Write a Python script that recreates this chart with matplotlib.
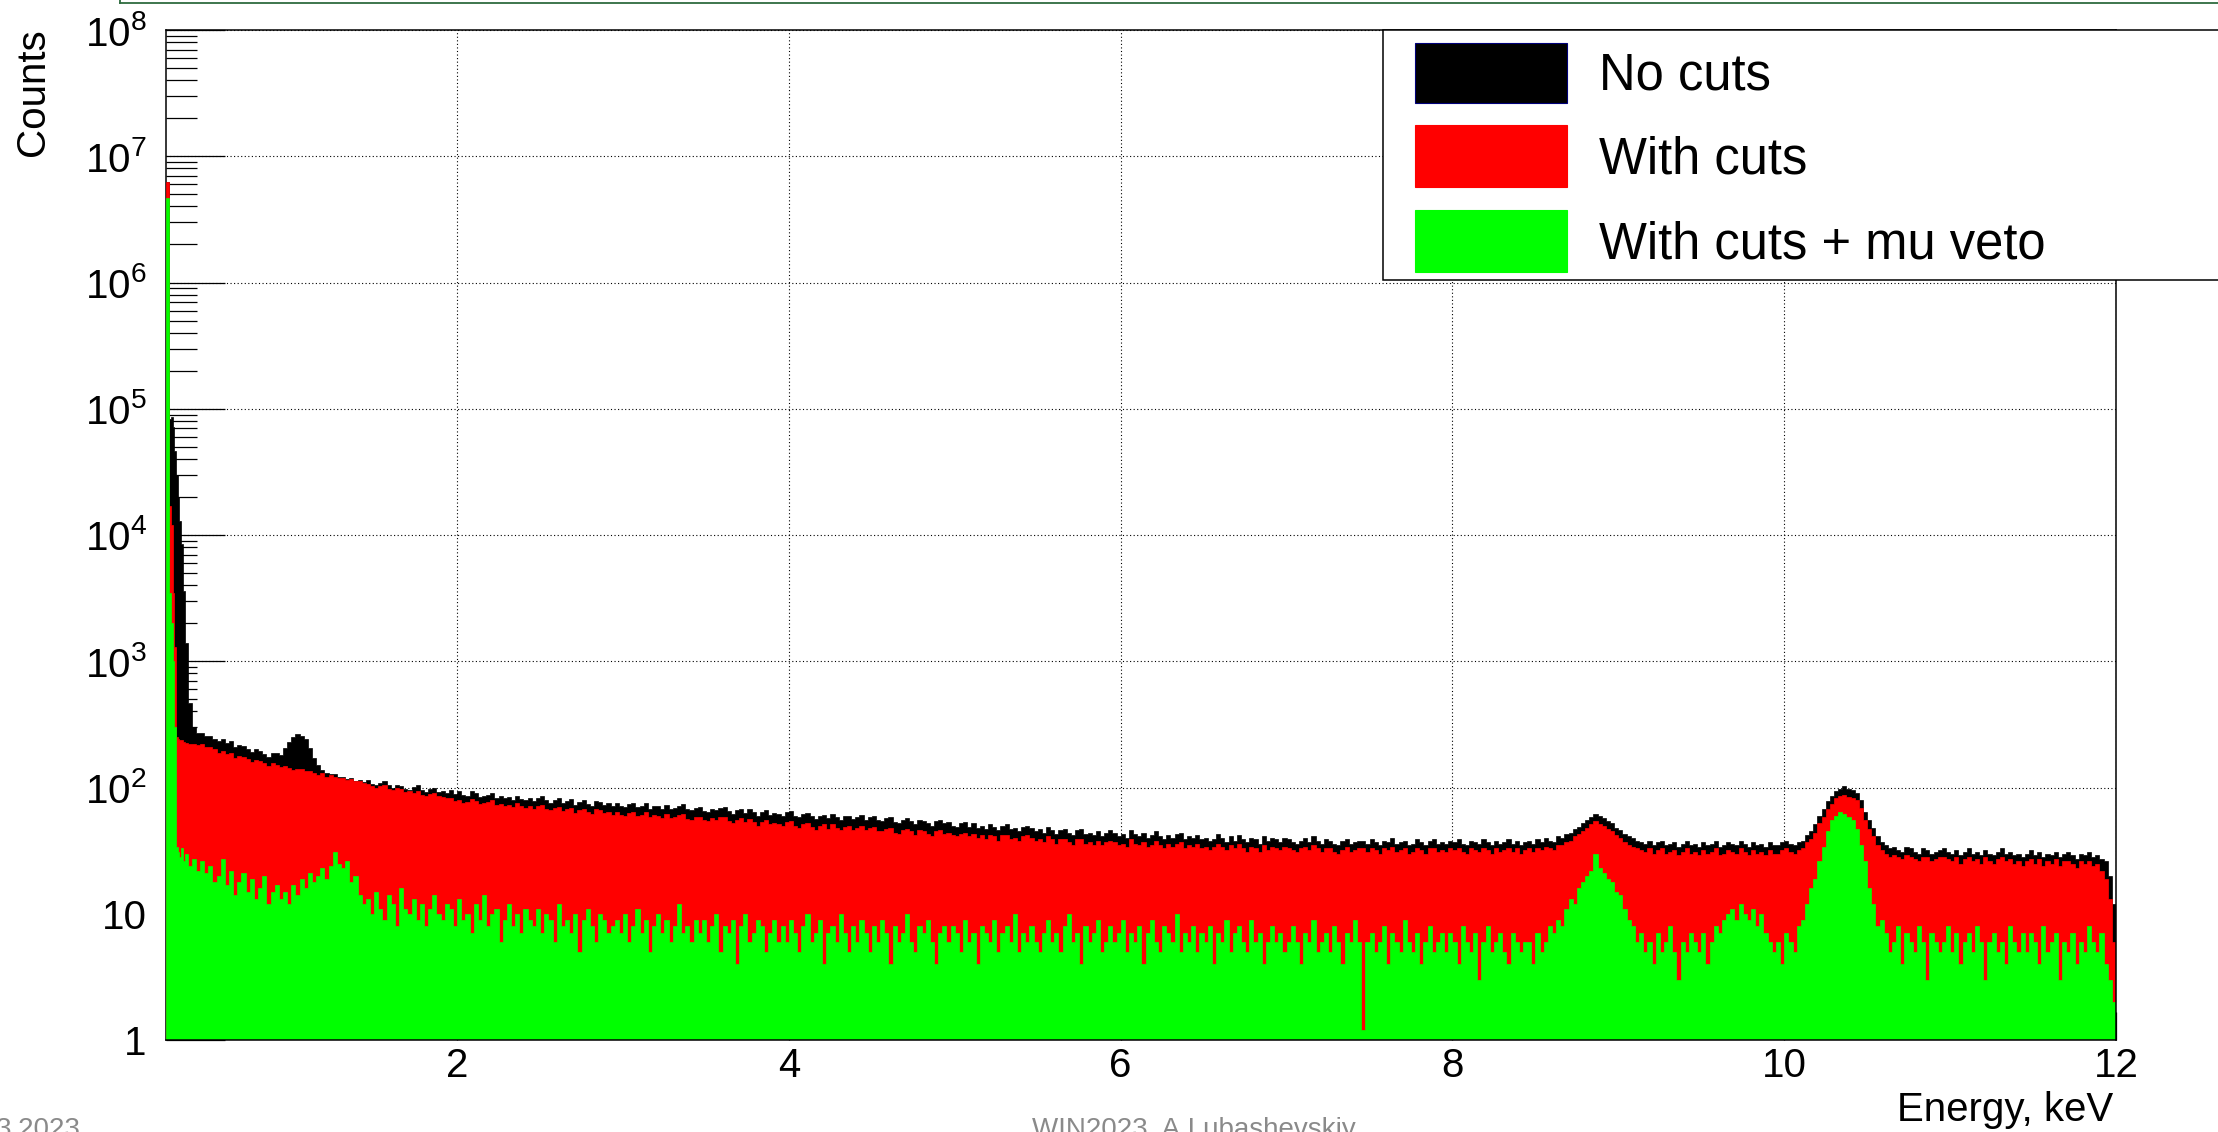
import numpy as np
import matplotlib
matplotlib.use('Agg')
import matplotlib.pyplot as plt
from matplotlib import font_manager
from matplotlib.patches import Rectangle
from matplotlib.lines import Line2D
from matplotlib.ticker import FixedLocator, LogLocator, NullFormatter

W, H, DPI = 2218, 1132, 100


def pick_font(names):
    for name in names:
        try:
            font_manager.findfont(name, fallback_to_default=False)
            return name
        except ValueError:
            continue
    return 'DejaVu Sans'


FONT = pick_font(['Liberation Sans', 'Arial', 'DejaVu Sans'])
FOOT_FONT = pick_font(['Liberation Sans Narrow', 'Liberation Sans'])
plt.rcParams['font.family'] = [FONT, 'DejaVu Sans']
plt.rcParams['mathtext.fontset'] = 'custom'
plt.rcParams['mathtext.rm'] = FONT

# ===== binning (keV) =====
# 10 eV bins across the threshold spike, 25 eV bins above 0.45 keV
fine_edges = [0.245, 0.265, 0.275, 0.285, 0.295, 0.305, 0.315, 0.325,
              0.335, 0.345, 0.36, 0.38, 0.40, 0.425]
coarse_edges = np.round(np.linspace(0.45, 12.0, 463), 4)
edges = np.concatenate([fine_edges, coarse_edges])

# ===== counts per bin (one row = 0.5 keV) =====
no_cuts_fine = [6.2e6, 8.3e4, 8.6e4, 7.2e4, 4.6e4, 3.0e4, 2.0e4, 1.3e4,
                8.5e3, 3.6e3, 1.4e3, 470, 300, 272]
no_cuts = [
    270, 255, 258, 244, 232, 240, 226, 233, 209, 219, 212, 202, 191, 200, 194, 184, 176, 186, 188, 180,
    205, 228, 250, 266, 255, 240, 205, 172, 150, 137, 131, 127, 128, 121, 122, 117, 119, 112, 115, 110,
    114, 107, 104, 109, 112, 104, 99, 105, 103, 97, 96, 101, 104, 95, 92, 98, 99, 92, 94, 90,
    96, 89, 93, 88, 86, 94, 90, 84, 85, 88, 91, 83, 86, 82, 84, 80, 86, 81, 79, 83,
    78, 83, 85, 79, 76, 80, 82, 75, 78, 81, 73, 77, 79, 74, 72, 78, 77, 73, 75, 71,
    76, 71, 70, 74, 75, 70, 72, 76, 68, 72, 71, 68, 73, 67, 69, 72, 74, 67, 66, 69,
    70, 65, 64, 68, 66, 69, 70, 65, 62, 66, 68, 63, 67, 64, 60, 64, 66, 61, 63, 62,
    60, 64, 65, 60, 58, 62, 63, 59, 56, 60, 61, 57, 62, 58, 55, 59, 60, 56, 58, 61,
    55, 58, 60, 55, 54, 57, 58, 53, 52, 55, 57, 54, 51, 55, 54, 52, 50, 54, 55, 52,
    53, 50, 49, 52, 53, 49, 52, 48, 50, 47, 51, 49, 46, 50, 51, 47, 48, 45, 49, 50,
    48, 45, 47, 44, 49, 46, 43, 46, 47, 44, 42, 46, 47, 43, 44, 42, 45, 41, 44, 46,
    44, 41, 43, 40, 46, 43, 41, 44, 40, 42, 45, 41, 39, 42, 40, 43, 44, 39, 41, 40,
    42, 39, 40, 38, 39, 43, 40, 37, 41, 38, 42, 39, 37, 40, 39, 36, 41, 38, 40, 39,
    37, 40, 39, 37, 36, 38, 40, 37, 41, 38, 36, 39, 38, 36, 35, 38, 39, 36, 37, 38,
    38, 36, 39, 37, 35, 38, 37, 40, 36, 37, 38, 35, 36, 39, 37, 35, 38, 39, 36, 37,
    36, 38, 37, 39, 36, 35, 38, 37, 36, 39, 37, 35, 38, 36, 37, 39, 36, 38, 35, 37,
    38, 36, 39, 37, 40, 38, 37, 41, 40, 43, 44, 47, 49, 52, 55, 58, 62, 59, 57, 54,
    52, 48, 46, 43, 41, 40, 38, 37, 36, 38, 35, 37, 38, 35, 36, 37, 34, 36, 38, 35,
    36, 34, 37, 35, 36, 38, 34, 35, 37, 36, 35, 38, 36, 34, 37, 35, 36, 34, 37, 35,
    35, 37, 38, 36, 35, 37, 38, 42, 45, 51, 60, 68, 78, 86, 94, 98, 102, 97, 96, 91,
    80, 64, 55, 48, 41, 37, 35, 33, 34, 32, 31, 34, 33, 31, 30, 33, 32, 30, 31, 32,
    33, 31, 30, 32, 29, 31, 33, 30, 31, 29, 32, 30, 29, 31, 33, 30, 31, 29, 30, 28,
    30, 32, 29, 31, 28, 30, 29, 31, 28, 30, 31, 29, 27, 30, 29, 31, 28, 29, 27, 26,
    20, 12,
]

with_cuts_fine = [6.2e6, 1.7e4, 1.2e4, 3.5e3, 1.3e3, 250, 242, 236,
                  238, 230, 226, 222, 221, 216]
with_cuts = [
    220, 209, 210, 200, 188, 193, 184, 189, 172, 178, 173, 168, 158, 165, 161, 157, 148, 155, 152, 146,
    149, 143, 137, 141, 139, 134, 136, 130, 126, 131, 122, 125, 121, 118, 120, 114, 116, 112, 113, 108,
    107, 102, 99, 102, 104, 98, 95, 99, 97, 92, 93, 90, 94, 88, 86, 89, 90, 85, 84, 82,
    82, 78, 80, 76, 77, 81, 78, 74, 75, 77, 79, 73, 74, 71, 73, 70, 75, 71, 69, 72,
    68, 71, 73, 67, 66, 69, 70, 65, 67, 69, 63, 66, 68, 64, 62, 67, 66, 63, 64, 61,
    64, 61, 60, 63, 64, 59, 61, 64, 58, 61, 60, 57, 62, 57, 58, 61, 62, 56, 55, 58,
    58, 55, 54, 57, 55, 58, 58, 54, 52, 55, 57, 53, 56, 53, 50, 53, 55, 51, 52, 51,
    50, 53, 54, 50, 48, 51, 52, 49, 46, 50, 51, 47, 51, 48, 46, 49, 50, 46, 48, 50,
    46, 48, 49, 45, 45, 47, 48, 44, 43, 46, 47, 45, 42, 46, 45, 43, 41, 45, 46, 43,
    44, 42, 41, 43, 44, 41, 43, 40, 42, 39, 42, 41, 38, 42, 42, 39, 40, 38, 41, 42,
    40, 38, 39, 37, 41, 39, 36, 39, 39, 37, 35, 39, 39, 36, 37, 35, 38, 35, 37, 38,
    37, 35, 36, 34, 39, 36, 35, 37, 34, 35, 38, 35, 33, 36, 34, 36, 37, 33, 35, 34,
    36, 33, 34, 32, 34, 36, 34, 32, 35, 33, 36, 33, 31, 34, 33, 31, 35, 32, 34, 33,
    32, 34, 33, 32, 31, 33, 34, 32, 35, 33, 31, 33, 33, 31, 30, 32, 34, 31, 32, 33,
    33, 31, 33, 32, 30, 33, 32, 34, 31, 32, 33, 30, 31, 33, 32, 30, 33, 33, 31, 32,
    31, 33, 32, 33, 31, 30, 33, 32, 31, 33, 32, 30, 33, 31, 32, 33, 31, 33, 30, 32,
    33, 31, 33, 32, 34, 33, 32, 35, 35, 37, 38, 41, 43, 45, 48, 51, 54, 51, 50, 47,
    45, 42, 40, 37, 35, 34, 33, 32, 31, 33, 30, 32, 33, 30, 31, 32, 29, 31, 33, 30,
    31, 29, 32, 30, 31, 33, 29, 30, 32, 31, 30, 33, 31, 29, 32, 30, 31, 29, 32, 30,
    30, 32, 33, 31, 30, 32, 33, 37, 39, 44, 52, 58, 67, 74, 82, 85, 88, 84, 83, 79,
    69, 55, 47, 41, 35, 32, 30, 28, 29, 28, 27, 29, 28, 27, 26, 28, 28, 26, 27, 28,
    28, 27, 26, 28, 25, 27, 28, 26, 27, 25, 28, 26, 25, 27, 28, 26, 27, 25, 26, 24,
    26, 27, 25, 27, 24, 26, 25, 27, 24, 26, 26, 25, 23, 26, 25, 26, 24, 25, 22, 19,
    13, 6,
]

mu_veto_fine = [4.7e6, 3.5e3, 2.0e3, 1.0e3, 300, 34, 31, 28,
                33, 26, 30, 24, 27, 22]
mu_veto = [
    26, 21, 24, 18, 20, 27, 17, 22, 14, 18, 21, 15, 19, 13, 16, 20, 12, 15, 17, 13,
    15, 12, 17, 14, 19, 16, 21, 18, 20, 23, 19, 24, 31, 25, 23, 26, 18, 20, 14, 12,
    13, 10, 15, 11, 9, 14, 12, 8, 16, 11, 10, 13, 9, 12, 8, 11, 14, 10, 9, 12,
    11, 8, 13, 9, 10, 7, 12, 9, 14, 8, 10, 11, 6, 9, 12, 8, 10, 7, 11, 9,
    8, 11, 7, 10, 9, 6, 12, 8, 9, 7, 10, 5, 9, 11, 8, 6, 10, 9, 7, 8,
    9, 7, 10, 6, 8, 11, 7, 9, 5, 8, 10, 7, 9, 6, 8, 12, 7, 8, 6, 9,
    7, 9, 6, 8, 10, 5, 8, 7, 9, 4, 8, 10, 6, 7, 9, 8, 5, 7, 9, 6,
    8, 6, 9, 7, 5, 8, 10, 6, 7, 9, 4, 7, 8, 6, 10, 7, 5, 8, 6, 9,
    7, 5, 8, 6, 9, 7, 4, 8, 6, 7, 10, 6, 5, 8, 7, 9, 6, 4, 7, 8,
    6, 8, 7, 5, 9, 6, 7, 4, 8, 7, 6, 9, 5, 7, 8, 6, 10, 5, 7, 6,
    8, 6, 5, 7, 9, 6, 7, 5, 8, 10, 6, 7, 4, 8, 6, 7, 9, 5, 6, 8,
    6, 7, 9, 5, 7, 6, 8, 4, 7, 9, 6, 5, 8, 7, 6, 10, 5, 7, 6, 8,
    5, 7, 6, 8, 4, 7, 6, 9, 5, 7, 8, 6, 5, 9, 6, 7, 4, 6, 8, 6,
    7, 5, 6, 8, 6, 4, 7, 6, 9, 5, 6, 7, 5, 8, 6, 4, 7, 6, 9, 6,
    1.2, 6, 7, 5, 6, 8, 4, 7, 6, 5, 9, 6, 5, 7, 4, 6, 8, 5, 6, 7,
    5, 7, 6, 4, 8, 6, 5, 7, 3, 6, 8, 5, 6, 7, 5, 4, 7, 6, 5, 6,
    6, 4, 7, 5, 6, 8, 7, 9, 8, 11, 13, 12, 16, 18, 20, 22, 30, 23, 21, 19,
    18, 15, 14, 11, 9, 8, 6, 7, 5, 6, 4, 7, 5, 6, 8, 5, 3, 6, 5, 7,
    6, 5, 7, 4, 6, 8, 7, 9, 10, 11, 9, 12, 10, 9, 11, 8, 10, 7, 6, 5,
    6, 4, 7, 6, 5, 8, 9, 12, 16, 19, 26, 34, 45, 55, 60, 64, 62, 58, 55, 47,
    35, 26, 16, 12, 8, 9, 7, 5, 6, 8, 4, 7, 6, 5, 8, 6, 3, 7, 6, 5,
    6, 8, 5, 7, 4, 6, 7, 5, 8, 6, 3, 6, 7, 5, 6, 4, 8, 6, 5, 7,
    5, 7, 6, 4, 8, 5, 6, 7, 3, 6, 5, 7, 4, 6, 5, 8, 6, 5, 7, 4,
    3, 2,
]

series = [
    ('No cuts', no_cuts_fine + no_cuts, '#000000'),
    ('With cuts', with_cuts_fine + with_cuts, '#ff0000'),
    ('With cuts + mu veto', mu_veto_fine + mu_veto, '#00ff00'),
]

x_ticks = [2, 4, 6, 8, 10, 12]
y_ticks = [10.0 ** k for k in range(9)]
y_labels = ['1', '10'] + [r'$\mathregular{10^{%d}}$' % k for k in range(2, 9)]


def fx(px):
    return px / W


def fy(py):
    return 1 - py / H


fig = plt.figure(figsize=(W / DPI, H / DPI), dpi=DPI)
ax = fig.add_axes([fx(166), fy(1040), (2116 - 166) / W, (1040 - 30) / H])
ax.set_yscale('log')
ax.set_xlim(0.245, 12)
ax.set_ylim(1, 1e8)
ax.set_axisbelow(True)

for z, (name, vals, col) in enumerate(series):
    ax.stairs(np.asarray(vals, dtype=float), edges, baseline=0.5, fill=True,
              facecolor=col, edgecolor=col, lw=0.5, zorder=1 + z)

ax.yaxis.set_major_locator(FixedLocator(y_ticks))
ax.set_yticklabels(y_labels)
ax.yaxis.set_minor_locator(LogLocator(base=10, subs=np.arange(2, 10), numticks=50))
ax.yaxis.set_minor_formatter(NullFormatter())
ax.set_xticks(x_ticks)
ax.set_xticklabels([str(t) for t in x_ticks])

ax.tick_params(axis='y', which='major', direction='in', length=42.5, width=0.9,
               pad=14, labelsize=29)
ax.tick_params(axis='y', which='minor', direction='in', length=22.3, width=0.9)
ax.tick_params(axis='x', which='major', direction='in', length=20, width=0.9,
               pad=5, labelsize=29)

ax.grid(True, which='major', color='black', linestyle=(0, (1, 2.2)), linewidth=0.8)

for side in ['top', 'right', 'bottom']:
    ax.spines[side].set_linewidth(1.1)
    ax.spines[side].set_zorder(5)
ax.spines['left'].set_linewidth(1.1)
ax.spines['left'].set_zorder(0.5)

# axis titles sit at the ends of the axes
fig.text(fx(33), fy(28), 'Counts', rotation=90, ha='center', va='top', fontsize=29)
fig.text(fx(2113), fy(1121), 'Energy, keV', ha='right', va='baseline', fontsize=29)

# legend box, running off the right edge
fig.add_artist(Rectangle((fx(1383), fy(280)), (2260 - 1383) / W, 250 / H,
                         transform=fig.transFigure, facecolor='white',
                         edgecolor='black', lw=1.1, zorder=5, clip_on=False))
swatch_rows = [(43, 103, 90), (125, 187, 173), (210, 272, 258)]
for (name, vals, col), (top, bot, base) in zip(series, swatch_rows):
    edge = '#00007a' if col == '#000000' else col
    fig.add_artist(Rectangle((fx(1415), fy(bot)), (1567 - 1415) / W, (bot - top) / H,
                             transform=fig.transFigure, facecolor=col,
                             edgecolor=edge, lw=0.8, zorder=6))
    fig.text(fx(1599), fy(base), name, ha='left', va='baseline', fontsize=36.5, zorder=7)

# slide frame and footer
frame_col = '#2e6b3f'
fig.add_artist(Line2D([fx(120), 1.0], [fy(2.5), fy(2.5)], color=frame_col, lw=1.3,
                      transform=fig.transFigure))
fig.add_artist(Line2D([fx(120), fx(120)], [fy(2.5), 1.0], color=frame_col, lw=1.3,
                      transform=fig.transFigure))
fig.text(fx(-4), fy(1137), '3.2023', ha='left', va='baseline', fontsize=20,
         color='#8a8a8a', family=[FOOT_FONT, 'DejaVu Sans'])
fig.text(fx(1194), fy(1137), 'WIN2023, A.Lubashevskiy', ha='center', va='baseline',
         fontsize=20, color='#8a8a8a', family=[FOOT_FONT, 'DejaVu Sans'])

fig.savefig('out.png', dpi=DPI)
plt.close(fig)
